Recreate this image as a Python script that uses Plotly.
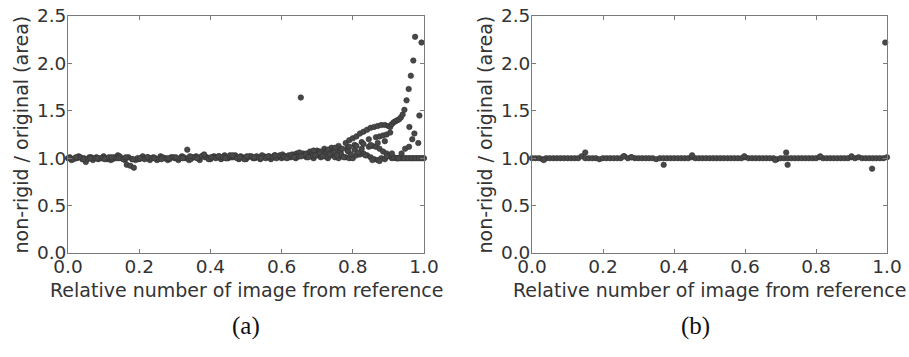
import plotly.graph_objects as go

# ---------------- data ----------------
X_TICKS = [0.0, 0.2, 0.4, 0.6, 0.8, 1.0]
X_TICK_TEXT = ["0.0", "0.2", "0.4", "0.6", "0.8", "1.0"]
Y_TICKS = [0.0, 0.5, 1.0, 1.5, 2.0, 2.5]
Y_TICK_TEXT = ["0.0", "0.5", "1.0", "1.5", "2.0", "2.5"]

BASE_X = [0.00, 0.01, 0.02, 0.03, 0.04, 0.05, 0.06, 0.07, 0.08, 0.09,
          0.10, 0.11, 0.12, 0.13, 0.14, 0.15, 0.16, 0.17, 0.18, 0.19,
          0.20, 0.21, 0.22, 0.23, 0.24, 0.25, 0.26, 0.27, 0.28, 0.29,
          0.30, 0.31, 0.32, 0.33, 0.34, 0.35, 0.36, 0.37, 0.38, 0.39,
          0.40, 0.41, 0.42, 0.43, 0.44, 0.45, 0.46, 0.47, 0.48, 0.49,
          0.50, 0.51, 0.52, 0.53, 0.54, 0.55, 0.56, 0.57, 0.58, 0.59,
          0.60, 0.61, 0.62, 0.63, 0.64, 0.65, 0.66, 0.67, 0.68, 0.69,
          0.70, 0.71, 0.72, 0.73, 0.74, 0.75, 0.76, 0.77, 0.78, 0.79,
          0.80, 0.81, 0.82, 0.83, 0.84, 0.85, 0.86, 0.87, 0.88, 0.89,
          0.90, 0.91, 0.92, 0.93, 0.94, 0.95, 0.96, 0.97, 0.98, 0.99, 1.00]

# (a) baseline sequence
A_BASE_Y = [1.00, 0.98, 1.00, 1.02, 0.99, 0.96, 1.01, 0.98, 1.01, 1.00,
            1.02, 0.99, 0.98, 1.01, 1.03, 1.00, 0.98, 1.01, 0.99, 0.98,
            0.99, 1.02, 1.00, 0.98, 1.01, 0.98, 1.02, 1.00, 0.98, 1.01,
            1.00, 0.98, 1.02, 1.00, 0.98, 1.01, 1.02, 0.98, 1.03, 1.01,
            0.99, 1.02, 1.01, 0.99, 1.03, 1.00, 1.01, 1.03, 0.99, 1.01,
            0.99, 1.02, 1.00, 1.02, 0.99, 1.02, 1.01, 0.99, 1.03, 1.01,
            1.00, 1.02, 1.01, 1.03, 1.00, 1.02, 1.04, 1.01, 1.02, 1.00,
            1.03, 1.01, 1.02, 1.00, 1.03, 1.01, 1.00, 1.02, 1.01, 1.00,
            1.00, 1.03, 1.04, 1.05, 1.03, 1.01, 0.99, 0.98, 1.00, 0.99,
            1.02, 1.00, 1.00, 1.00, 1.00, 1.00, 1.00, 1.00, 1.00, 1.00, 1.00]

# (a) second sequence
A_SEQ2_X = [0.005, 0.015, 0.025, 0.035, 0.045, 0.055, 0.065, 0.075, 0.085, 0.095,
            0.105, 0.115, 0.125, 0.135, 0.145, 0.155, 0.165, 0.175, 0.185, 0.195,
            0.205, 0.215, 0.225, 0.235, 0.245, 0.255, 0.265, 0.275, 0.285, 0.295,
            0.305, 0.315, 0.325, 0.335, 0.345, 0.355, 0.365, 0.375, 0.385, 0.395,
            0.405, 0.415, 0.425, 0.435, 0.445, 0.455, 0.465, 0.475, 0.485, 0.495,
            0.505, 0.515, 0.525, 0.535, 0.545, 0.555, 0.565, 0.575, 0.585, 0.595,
            0.925, 0.935, 0.945, 0.955, 0.965, 0.975, 0.985, 0.995]
A_SEQ2_Y = [1.01, 0.99, 1.00, 1.01, 1.00, 0.99, 1.01, 1.00, 0.99, 1.00,
            1.00, 1.01, 0.99, 1.00, 1.02, 0.99, 0.93, 0.92, 0.90, 1.00,
            1.00, 0.99, 1.01, 1.00, 1.00, 0.99, 1.01, 1.00, 0.99, 1.01,
            1.00, 1.00, 1.01, 1.09, 0.99, 1.01, 1.00, 1.02, 1.01, 0.99,
            1.01, 1.00, 1.02, 1.01, 1.00, 1.03, 1.01, 1.00, 1.02, 0.99,
            1.01, 1.02, 1.00, 1.01, 1.03, 1.00, 1.02, 1.01, 1.00, 1.03,
            1.00, 1.00, 1.00, 1.00, 1.00, 1.00, 1.00, 1.00]

# (a) third sequence (thickens the band)
A_SEQ3_X = [0.0025, 0.0225, 0.0425, 0.0625, 0.0825, 0.1025, 0.1225, 0.1425,
            0.1625, 0.1825, 0.2025, 0.2225, 0.2425, 0.2625, 0.2825, 0.3025,
            0.3225, 0.3425, 0.3625, 0.3825, 0.4025, 0.4225, 0.4425, 0.4625,
            0.4825, 0.5025, 0.5225, 0.5425, 0.5625, 0.5825, 0.6025, 0.6225,
            0.6425, 0.6625, 0.6825, 0.7025, 0.7225, 0.7425, 0.7625]
A_SEQ3_Y = [1.00, 1.01, 0.99, 1.00, 1.00, 0.99, 1.01, 1.00,
            1.01, 0.99, 1.00, 1.01, 1.00, 0.99, 1.00, 1.01,
            1.00, 1.02, 1.00, 1.04, 1.01, 1.02, 1.00, 1.03,
            1.01, 1.02, 1.01, 1.00, 1.02, 1.03, 1.04, 1.02,
            1.05, 1.03, 1.06, 1.04, 1.07, 1.05, 1.08]

# (a) upper arc ending in the steep rise
A_UP_X = [0.605, 0.62, 0.64, 0.66, 0.68, 0.70, 0.72, 0.74, 0.76, 0.78, 0.79,
          0.80, 0.81, 0.82, 0.83, 0.84, 0.85, 0.86, 0.87, 0.88, 0.89, 0.90,
          0.905, 0.91, 0.915, 0.92, 0.925, 0.93, 0.935, 0.94, 0.945, 0.951,
          0.957, 0.963, 0.970, 0.975, 0.993]
A_UP_Y = [1.02, 1.03, 1.04, 1.05, 1.07, 1.08, 1.10, 1.11, 1.13, 1.16, 1.19,
          1.21, 1.23, 1.26, 1.28, 1.30, 1.32, 1.33, 1.34, 1.35, 1.35, 1.34,
          1.33, 1.36, 1.38, 1.39, 1.40, 1.41, 1.43, 1.46, 1.51, 1.61,
          1.73, 1.87, 2.03, 2.28, 2.22]

# (a) middle arc
A_MID_X = [0.625, 0.645, 0.665, 0.685, 0.705, 0.725, 0.745, 0.765, 0.785,
           0.805, 0.825, 0.845, 0.865, 0.875, 0.885, 0.895, 0.905]
A_MID_Y = [1.01, 1.02, 1.03, 1.05, 1.06, 1.07, 1.08, 1.09, 1.11,
           1.14, 1.17, 1.20, 1.22, 1.23, 1.24, 1.25, 1.27]

# (a) descending arc
A_DOWN_X = [0.705, 0.725, 0.745, 0.765, 0.785, 0.805, 0.825, 0.845, 0.855,
            0.865, 0.875, 0.885, 0.895, 0.905, 0.915, 0.925]
A_DOWN_Y = [1.04, 1.05, 1.06, 1.07, 1.08, 1.09, 1.10, 1.12, 1.13,
            1.12, 1.10, 1.07, 1.05, 1.03, 1.01, 1.00]

# (a) extra arcs between 0.6 and 0.9
A_ARC4_X = [0.63, 0.65, 0.67, 0.69, 0.71, 0.73, 0.75, 0.77, 0.79, 0.81,
            0.83, 0.85, 0.87, 0.89]
A_ARC4_Y = [1.04, 1.06, 1.05, 1.08, 1.07, 1.09, 1.11, 1.10, 1.12, 1.13,
            1.15, 1.14, 1.16, 1.18]
A_ARC5_X = [0.6075, 0.6275, 0.6475, 0.6675, 0.6875, 0.7075, 0.7275, 0.7475,
            0.7675, 0.7875]
A_ARC5_Y = [1.01, 1.03, 1.02, 1.04, 1.03, 1.05, 1.02, 1.06, 1.04, 1.07]

# (a) lower wavy band
A_LOW_X = [0.615, 0.635, 0.655, 0.675, 0.695, 0.715, 0.735, 0.755, 0.775,
           0.795, 0.815, 0.835, 0.855, 0.875, 0.895, 0.91]
A_LOW_Y = [1.00, 1.01, 1.02, 1.01, 1.03, 1.02, 1.04, 1.03, 1.01,
           1.04, 1.06, 1.03, 0.98, 0.97, 1.02, 1.05]

# (a) second steep rise near the end
A_LATE_X = [0.928, 0.937, 0.947, 0.958, 0.967, 0.973, 0.984, 0.959, 0.987]
A_LATE_Y = [1.00, 1.05, 1.10, 1.12, 1.20, 1.26, 1.16, 1.33, 1.45]

# (a) isolated outlier
A_OUT_X = [0.654]
A_OUT_Y = [1.64]

# (b) baseline
B_BASE_Y = [1.00, 1.00, 1.00, 0.99, 1.00, 1.00, 1.00, 1.00, 1.00, 1.00,
            1.00, 1.00, 1.00, 1.00, 1.02, 1.00, 1.00, 1.00, 1.00, 0.99,
            1.00, 1.00, 1.00, 1.00, 1.00, 1.00, 1.02, 1.00, 1.01, 1.00,
            1.00, 1.00, 1.00, 1.00, 1.00, 0.99, 1.00, 1.00, 1.00, 1.00,
            1.00, 1.00, 1.00, 1.00, 1.00, 1.01, 1.00, 1.00, 1.00, 1.00,
            1.00, 1.00, 1.00, 1.00, 1.00, 1.00, 1.00, 1.00, 1.00, 1.00,
            1.01, 1.00, 1.00, 1.00, 1.00, 1.00, 1.00, 1.00, 1.00, 0.99,
            1.00, 1.00, 1.00, 1.00, 1.00, 1.00, 1.00, 1.00, 1.00, 1.00,
            1.00, 1.01, 1.00, 1.00, 1.00, 1.00, 1.00, 1.00, 1.00, 1.00,
            1.01, 1.00, 1.01, 1.00, 1.00, 1.00, 1.00, 1.00, 1.00, 1.00, 1.01]

# (b) deviating images
B_OUT_X = [0.033, 0.150, 0.258, 0.280, 0.371, 0.451, 0.598, 0.685, 0.716,
           0.720, 0.812, 0.900, 0.958, 0.995]
B_OUT_Y = [0.98, 1.06, 1.02, 1.01, 0.93, 1.03, 1.02, 0.98, 1.06,
           0.93, 1.02, 1.02, 0.89, 2.22]

# ---------------- figure ----------------
W, H = 909, 357
MARK = dict(color="#484848", size=5.5, line=dict(color="#303030", width=0.6))
TXT = "#333333"
FRAME = "#7a7a7a"
FONT = "DejaVu Sans"
TICK_SIZE = 18.5
TITLE_SIZE = 19

fig = go.Figure()


def add(x, y, xa, ya):
    fig.add_trace(go.Scatter(x=x, y=y, mode="markers", marker=MARK,
                             xaxis=xa, yaxis=ya, showlegend=False,
                             hoverinfo="skip", cliponaxis=False))


for xs, ys in [(BASE_X, A_BASE_Y), (A_SEQ2_X, A_SEQ2_Y), (A_SEQ3_X, A_SEQ3_Y),
               (A_UP_X, A_UP_Y), (A_MID_X, A_MID_Y), (A_DOWN_X, A_DOWN_Y),
               (A_ARC4_X, A_ARC4_Y), (A_ARC5_X, A_ARC5_Y),
               (A_LOW_X, A_LOW_Y), (A_LATE_X, A_LATE_Y), (A_OUT_X, A_OUT_Y)]:
    add(xs, ys, "x", "y")
for xs, ys in [(BASE_X, B_BASE_Y), (B_OUT_X, B_OUT_Y)]:
    add(xs, ys, "x2", "y2")


def px_x(p):
    return p / W


def px_y(p):
    return 1 - p / H


common = dict(showline=True, linecolor=FRAME, linewidth=1, mirror="ticks",
              ticks="inside", ticklen=4, tickwidth=1, tickcolor=FRAME,
              showgrid=False, zeroline=False, automargin=False,
              ticklabelstandoff=-3,
              tickfont=dict(family=FONT, size=TICK_SIZE, color=TXT))

plot_top, plot_bot = 16, 253
ydom = [px_y(plot_bot), px_y(plot_top)]
A_L, A_R = 68, 424
B_L, B_R = 532, 887

fig.update_layout(
    template="none",
    width=W, height=H, margin=dict(l=0, r=0, t=0, b=0, pad=0),
    paper_bgcolor="white", plot_bgcolor="white",
    xaxis=dict(domain=[px_x(A_L), px_x(A_R)], range=[0, 1], anchor="y",
               tickvals=X_TICKS, ticktext=X_TICK_TEXT, **common),
    yaxis=dict(domain=ydom, range=[0, 2.5], anchor="x",
               tickvals=Y_TICKS, ticktext=Y_TICK_TEXT, **common),
    xaxis2=dict(domain=[px_x(B_L), px_x(B_R)], range=[0, 1], anchor="y2",
                tickvals=X_TICKS, ticktext=X_TICK_TEXT, **common),
    yaxis2=dict(domain=ydom, range=[0, 2.5], anchor="x2",
                tickvals=Y_TICKS, ticktext=Y_TICK_TEXT, **common),
)

ann = []
for (l, r, ytx) in [(A_L, A_R, 20), (B_L, B_R, 484)]:
    ann.append(dict(text="Relative number of image from reference",
                    x=px_x((l + r) / 2), y=px_y(290), xref="paper", yref="paper",
                    xanchor="center", yanchor="middle", showarrow=False,
                    font=dict(family=FONT, size=TITLE_SIZE, color=TXT)))
    ann.append(dict(text="non-rigid / original (area)", textangle=-90,
                    x=px_x(ytx), y=px_y((plot_top + plot_bot) / 2),
                    xref="paper", yref="paper", xanchor="center",
                    yanchor="middle", showarrow=False,
                    font=dict(family=FONT, size=TITLE_SIZE, color=TXT)))
for lab, cx in [("(a)", 246), ("(b)", 695)]:
    ann.append(dict(text=lab, x=px_x(cx), y=px_y(326), xref="paper",
                    yref="paper", xanchor="center", yanchor="middle",
                    showarrow=False,
                    font=dict(family="Liberation Serif", size=25, color="#111111")))
fig.update_layout(annotations=ann)

fig.write_html("out.html")
